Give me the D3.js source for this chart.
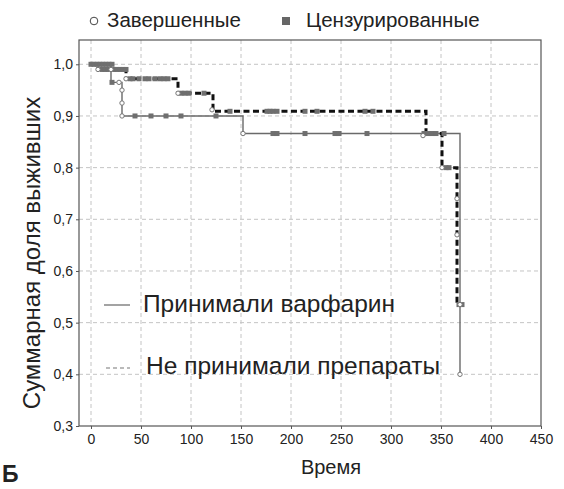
<!DOCTYPE html>
<html>
<head>
<meta charset="utf-8">
<script src="https://cdn.jsdelivr.net/npm/d3@7/dist/d3.min.js"></script>
<style>
  body { margin: 0; background: #fff; }
  text { font-family: "Liberation Sans", Arial, sans-serif; fill: #222; }
</style>
</head>
<body>
<script>
// survival curves (Kaplan-Meier steps)
var warfTimes = [0, 20, 31, 152, 369];
var warfSurv  = [1.0, 0.965, 0.90, 0.866, 0.40];
var noneTimes = [0, 7, 35, 87, 122, 335, 351, 366, 370];
var noneSurv  = [1.0, 0.99, 0.972, 0.944, 0.909, 0.866, 0.80, 0.535, 0.535];

// completed (events)
var eventTimes = [7, 20, 28, 31, 31, 31, 35, 87, 121, 152, 332, 351, 366, 366, 369, 369];
var eventSurv  = [0.99, 0.99, 0.965, 0.95, 0.925, 0.90, 0.972, 0.944, 0.912, 0.866, 0.862, 0.80, 0.74, 0.67, 0.535, 0.40];

// censored
var censTimes = [0, 3, 6, 9, 12, 15, 18, 21,
                 11, 14, 17, 20, 23, 26, 29, 32, 35,
                 21,
                 39, 42, 48, 54, 58, 64, 69, 73, 77,
                 90, 94, 98, 113,
                 139, 176, 179, 182, 186, 214, 226, 274, 282,
                 44, 60, 75, 90, 125,
                 182, 186, 214, 244, 248, 276, 333, 337, 341, 345, 353,
                 355, 358,
                 368, 371];
var censSurv  = [1, 1, 1, 1, 1, 1, 1, 1,
                 0.99, 0.99, 0.99, 0.99, 0.99, 0.99, 0.99, 0.99, 0.99,
                 0.965,
                 0.972, 0.972, 0.972, 0.972, 0.972, 0.972, 0.972, 0.972, 0.972,
                 0.944, 0.944, 0.944, 0.944,
                 0.909, 0.909, 0.909, 0.909, 0.909, 0.909, 0.909, 0.909, 0.909,
                 0.90, 0.90, 0.90, 0.90, 0.90,
                 0.866, 0.866, 0.866, 0.866, 0.866, 0.866, 0.866, 0.866, 0.866, 0.866, 0.866,
                 0.80, 0.80,
                 0.535, 0.535];

var xTicks = [0, 50, 100, 150, 200, 250, 300, 350, 400, 450];
var yTicks = [0.3, 0.4, 0.5, 0.6, 0.7, 0.8, 0.9, 1.0];

var width = 564, height = 489;
var x = d3.scaleLinear().domain([-12, 450]).range([79, 541]);
var y = d3.scaleLinear().domain([0.3, 1.047]).range([426, 40]);

var svg = d3.select("body").append("svg")
    .attr("width", width)
    .attr("height", height);

// grid
svg.append("g").selectAll("line")
    .data(xTicks.filter(function(d){ return d < 450; }))
    .enter().append("line")
    .attr("x1", function(d){ return x(d); })
    .attr("x2", function(d){ return x(d); })
    .attr("y1", y.range()[1]).attr("y2", y.range()[0])
    .attr("stroke", "#c4c4c4").attr("stroke-dasharray", "4,3");

svg.append("g").selectAll("line")
    .data(yTicks.filter(function(d){ return d > 0.3; }))
    .enter().append("line")
    .attr("y1", function(d){ return y(d); })
    .attr("y2", function(d){ return y(d); })
    .attr("x1", x.range()[0]).attr("x2", x.range()[1])
    .attr("stroke", "#c4c4c4").attr("stroke-dasharray", "4,3");

// axes
var fmt = function(d){ return d.toFixed(1).replace(".", ","); };
var yAxis = svg.append("g")
    .attr("transform", "translate(" + x.range()[0] + ",0)")
    .call(d3.axisLeft(y).tickValues(yTicks).tickFormat(fmt).tickSize(3).tickPadding(3));
var xAxis = svg.append("g")
    .attr("transform", "translate(0," + y.range()[0] + ")")
    .call(d3.axisBottom(x).tickValues(xTicks).tickSize(3).tickPadding(5));
[xAxis, yAxis].forEach(function(a){
    a.select(".domain").remove();
    a.selectAll("line").attr("stroke", "#555");
    a.selectAll("text").style("font-size", "14px")
        .style("font-family", "Liberation Sans, Arial, sans-serif").attr("fill", "#222");
});

svg.append("rect")
    .attr("x", x.range()[0]).attr("y", y.range()[1])
    .attr("width", x.range()[1] - x.range()[0])
    .attr("height", y.range()[0] - y.range()[1])
    .attr("fill", "none").attr("stroke", "#555").attr("stroke-width", 1.2);

// curves
var line = d3.line()
    .x(function(d){ return x(d[0]); })
    .y(function(d){ return y(d[1]); })
    .curve(d3.curveStepAfter);

svg.append("path")
    .datum(warfTimes.map(function(t, i){ return [t, warfSurv[i]]; }))
    .attr("d", line)
    .attr("fill", "none").attr("stroke", "#6a6a6a").attr("stroke-width", 1.4);

svg.append("path")
    .datum(noneTimes.map(function(t, i){ return [t, noneSurv[i]]; }))
    .attr("d", line)
    .attr("fill", "none").attr("stroke", "#111").attr("stroke-width", 3)
    .attr("stroke-dasharray", "6,3.5");

// censored squares
svg.append("g").selectAll("rect")
    .data(censTimes.map(function(t, i){ return [t, censSurv[i]]; }))
    .enter().append("rect")
    .attr("x", function(d){ return x(d[0]) - 2.5; })
    .attr("y", function(d){ return y(d[1]) - 2.5; })
    .attr("width", 5).attr("height", 5)
    .attr("fill", "#6f6f6f");

// event circles
svg.append("g").selectAll("circle")
    .data(eventTimes.map(function(t, i){ return [t, eventSurv[i]]; }))
    .enter().append("circle")
    .attr("cx", function(d){ return x(d[0]); })
    .attr("cy", function(d){ return y(d[1]); })
    .attr("r", 2.2)
    .attr("fill", "#fff").attr("stroke", "#777").attr("stroke-width", 1);

// top legend
svg.append("circle").attr("cx", 94).attr("cy", 21).attr("r", 3.8)
    .attr("fill", "none").attr("stroke", "#444").attr("stroke-width", 1);
svg.append("text").attr("x", 107).attr("y", 27).style("font-size", "20.5px").text("Завершенные");
svg.append("rect").attr("x", 282).attr("y", 17).attr("width", 8).attr("height", 8).attr("fill", "#666");
svg.append("text").attr("x", 306).attr("y", 27).style("font-size", "20.5px").text("Цензурированные");

// inner legend
svg.append("line").attr("x1", 104).attr("x2", 130).attr("y1", 305).attr("y2", 305)
    .attr("stroke", "#666").attr("stroke-width", 1.2);
svg.append("text").attr("x", 143).attr("y", 312).style("font-size", "24.5px").text("Принимали варфарин");
svg.append("line").attr("x1", 106).attr("x2", 130).attr("y1", 368).attr("y2", 368)
    .attr("stroke", "#777").attr("stroke-width", 1.2).attr("stroke-dasharray", "4,3");
svg.append("text").attr("x", 146).attr("y", 374).style("font-size", "24.5px").text("Не принимали препараты");

// axis titles
svg.append("text")
    .attr("transform", "translate(40,253) rotate(-90)")
    .attr("text-anchor", "middle").style("font-size", "24px")
    .text("Суммарная доля выживших");
svg.append("text").attr("x", 331).attr("y", 474)
    .attr("text-anchor", "middle").style("font-size", "20px").text("Время");

svg.append("text").attr("x", 2).attr("y", 482)
    .style("font-size", "23px").style("font-weight", "bold").attr("fill", "#111").text("Б");
</script>
</body>
</html>
